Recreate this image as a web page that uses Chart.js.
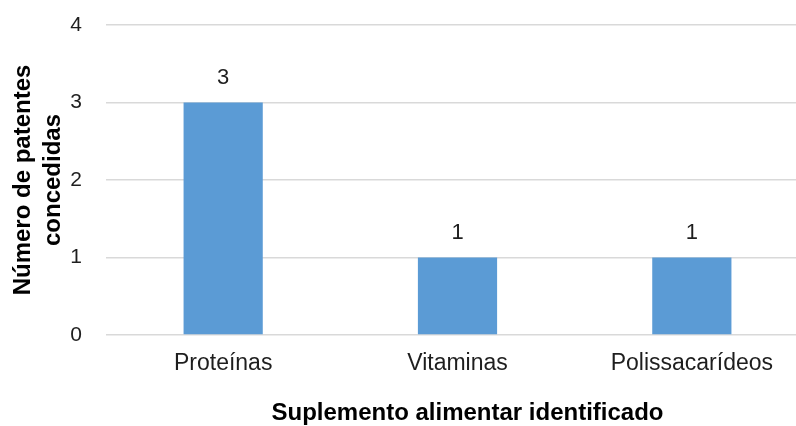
<!DOCTYPE html>
<html>
<head>
<meta charset="utf-8">
<script src="https://cdn.jsdelivr.net/npm/chart.js@4/dist/chart.umd.min.js"></script>
<style>
  html, body { margin: 0; padding: 0; background: #fff; overflow: hidden; }
  #wrap { width: 810px; height: 426px; position: relative; }
</style>
</head>
<body>
<div id="wrap"><canvas id="c" width="810" height="426"></canvas></div>
<script>
const categories = ['Proteínas', 'Vitaminas', 'Polissacarídeos'];
const patentCounts = [3, 1, 1];
const yTicks = [0, 1, 2, 3, 4];
const yTitle = ['Número de patentes', 'concedidas'];
const xTitle = 'Suplemento alimentar identificado';

const FONT = "'Liberation Sans', Arial, sans-serif";
const TEXT = '#1e1e1e';

// Writes each bar's value just above it
const valueLabels = {
  id: 'valueLabels',
  afterDatasetsDraw(chart) {
    const ctx = chart.ctx;
    const meta = chart.getDatasetMeta(0);
    ctx.save();
    ctx.font = '22px ' + FONT;
    ctx.fillStyle = TEXT;
    ctx.textAlign = 'center';
    ctx.textBaseline = 'middle';
    meta.data.forEach((bar, i) => {
      ctx.fillText(String(chart.data.datasets[0].data[i]), bar.x, bar.y - 25);
    });
    ctx.restore();
  }
};

// Axis title under the category labels
const xAxisTitle = {
  id: 'xAxisTitle',
  afterDraw(chart) {
    const ctx = chart.ctx;
    const area = chart.chartArea;
    ctx.save();
    ctx.font = 'bold 24px ' + FONT;
    ctx.fillStyle = '#000';
    ctx.textAlign = 'center';
    ctx.textBaseline = 'alphabetic';
    ctx.fillText(xTitle, (area.left + area.right) / 2 + 10, 420);
    ctx.restore();
  }
};

new Chart(document.getElementById('c'), {
  type: 'bar',
  data: {
    labels: categories,
    datasets: [{
      data: patentCounts,
      backgroundColor: '#5b9bd5',
      borderWidth: 0,
      categoryPercentage: 1,
      barPercentage: 0.338
    }]
  },
  options: {
    responsive: false,
    animation: false,
    devicePixelRatio: 1,
    layout: { padding: { top: 25, right: 1, left: 9, bottom: 0 } },
    plugins: { legend: { display: false }, tooltip: { enabled: false } },
    scales: {
      x: {
        grid: { display: false, drawTicks: false },
        border: { display: false },
        ticks: { color: TEXT, font: { family: FONT, size: 23 }, padding: 15 },
        afterFit(s) { s.height = 91; }
      },
      y: {
        min: 0, max: 4,
        afterBuildTicks(s) { s.ticks = yTicks.map(v => ({ value: v })); },
        grid: { color: '#d9d9d9', lineWidth: 1.5, drawTicks: false },
        border: { display: false },
        ticks: { color: TEXT, font: { family: FONT, size: 21 }, padding: 24 },
        title: {
          display: true, text: yTitle, color: '#000',
          font: { family: FONT, size: 24, weight: 'bold', lineHeight: 1.22 },
          padding: { top: 0, bottom: 4 }
        },
        afterFit(s) { s.width = 97; s.paddingTop = 0; s.paddingBottom = 0; }
      }
    }
  },
  plugins: [valueLabels, xAxisTitle]
});
</script>
</body>
</html>
